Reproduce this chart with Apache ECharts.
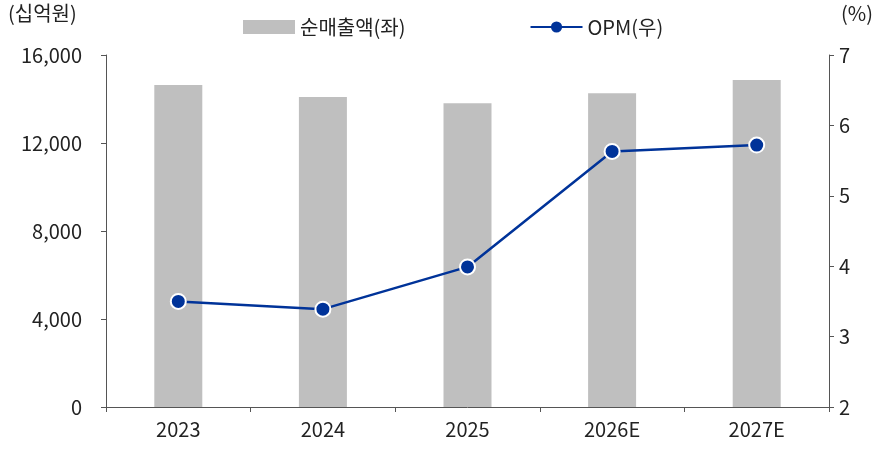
<!DOCTYPE html>
<html>
<head>
<meta charset="utf-8">
<script src="https://cdn.jsdelivr.net/npm/echarts@6/dist/echarts.min.js"></script>
<style>
  html, body { margin: 0; padding: 0; background: #fff; }
  #chart { width: 885px; height: 450px; }
</style>
</head>
<body>
<div id="chart"></div>
<script>
var years = ['2023', '2024', '2025', '2026E', '2027E'];
var sales = [14640, 14090, 13810, 14260, 14860];
var opm = [3.5, 3.39, 3.99, 5.63, 5.72];
var leftTicks = [0, 4000, 8000, 12000, 16000];

var axisColor = '#555';
var font = '"Noto Sans CJK KR", "Open Sans", sans-serif';

var chart = echarts.init(document.getElementById('chart'));

var option = {
    animation: false,
    textStyle: { fontFamily: font },
    grid: { left: 106, right: 56, top: 55, bottom: 43 },
    legend: {
        top: 12,
        left: 238,
        itemGap: 124,
        itemWidth: 52,
        itemHeight: 14,
        textStyle: { fontSize: 20, color: '#222', fontFamily: font },
        data: [
            { name: '순매출액(좌)', icon: 'rect' },
            { name: 'OPM(우)', itemStyle: { borderWidth: 0 } }
        ]
    },
    graphic: [
        { type: 'text', left: 8, top: 3, style: { text: '(십억원)', fontSize: 20, fill: '#222', fontFamily: font } },
        { type: 'text', right: 12, top: 3, style: { text: '(%)', fontSize: 20, fill: '#222', fontFamily: font } }
    ],
    xAxis: {
        type: 'category',
        data: years,
        axisLine: { lineStyle: { color: axisColor, width: 1 } },
        axisTick: { show: true, length: 5, lineStyle: { color: axisColor } },
        axisLabel: { color: '#222', fontSize: 20, margin: 12, fontFamily: font }
    },
    yAxis: [
        {
            type: 'value',
            min: leftTicks[0],
            max: leftTicks[leftTicks.length - 1],
            interval: 4000,
            splitLine: { show: false },
            axisLine: { show: true, lineStyle: { color: axisColor } },
            axisTick: { show: true, length: 5, lineStyle: { color: axisColor } },
            axisLabel: {
                color: '#222', fontSize: 20, margin: 24, fontFamily: font,
                formatter: function (v) { return v.toLocaleString('en-US'); }
            }
        },
        {
            type: 'value',
            min: 2,
            max: 7,
            interval: 1,
            splitLine: { show: false },
            axisLine: { show: true, lineStyle: { color: axisColor } },
            axisTick: { show: true, length: 5, lineStyle: { color: axisColor } },
            axisLabel: { color: '#222', fontSize: 20, margin: 10, fontFamily: font }
        }
    ],
    series: [
        {
            name: '순매출액(좌)',
            type: 'bar',
            data: sales,
            barWidth: 48,
            itemStyle: { color: '#bfbfbf' }
        },
        {
            name: 'OPM(우)',
            type: 'line',
            yAxisIndex: 1,
            data: opm,
            symbol: 'circle',
            symbolSize: 15,
            lineStyle: { color: '#003399', width: 2.5 },
            itemStyle: { color: '#003399', borderColor: '#fff', borderWidth: 2 }
        }
    ]
};

chart.setOption(option);
</script>
</body>
</html>
